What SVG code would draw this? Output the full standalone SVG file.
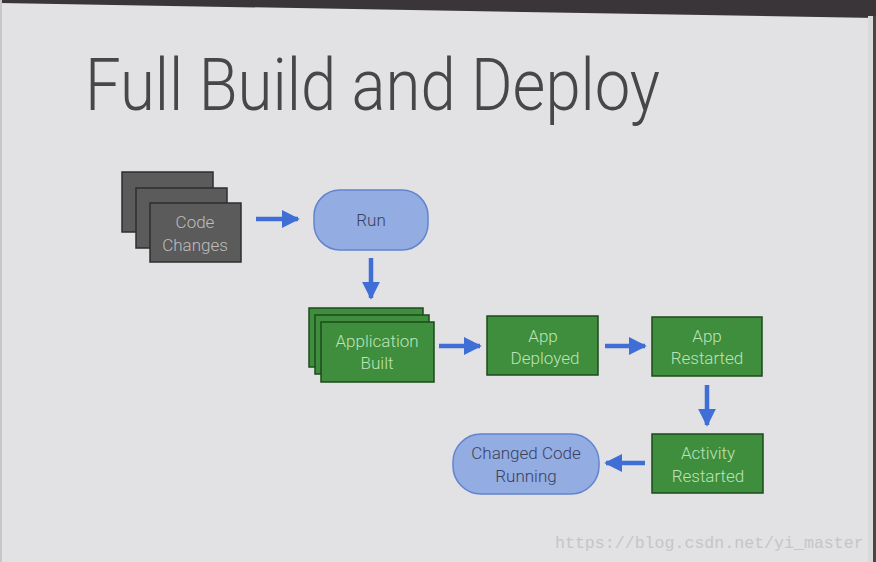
<svg xmlns="http://www.w3.org/2000/svg" width="876" height="562" viewBox="0 0 876 562">
<defs>
<style>
.bg{fill:#e2e1e3}
.gray{fill:#5b5b5b;stroke:#2e2e2e;stroke-width:1.5}
.green{fill:#3e8e3e;stroke:#1c4a1c;stroke-width:1.5}
.blue{fill:#93ace1;stroke:#6284cf;stroke-width:1.5}
.t{font-family:Roboto,"Liberation Sans",sans-serif;font-weight:300;font-size:17px;text-anchor:middle}
.tg{fill:#bdbdbd}
.tgr{fill:#bfe3b6}
.tb{fill:#3b4260}
.arr{stroke:#3f6fd6;stroke-width:4.5;fill:none;marker-end:url(#ah)}
</style>
<marker id="ah" viewBox="0 0 10 10" refX="9" refY="5" markerWidth="4" markerHeight="4.4" orient="auto" markerUnits="strokeWidth">
<path d="M0,0 L10,5 L0,10 Z" fill="#3f6fd6"/>
</marker>
</defs>
<rect class="bg" x="0" y="0" width="876" height="562"/>
<polygon points="0,0 876,0 876,18 0,3" fill="#3a3538"/>
<polygon points="873,16 876,16 876,562 873,562" fill="#4a4548"/>
<rect x="868" y="16" width="5" height="546" fill="#d9d8da"/>
<rect x="0" y="0" width="2" height="562" fill="#c9c5cb"/>
<text x="85" y="110" font-family="Roboto,'Liberation Sans',sans-serif" font-weight="300" font-size="72" fill="#474747" textLength="575" lengthAdjust="spacingAndGlyphs">Full Build and Deploy</text>
<g id="code-changes">
<rect class="gray" x="122" y="172" width="91" height="60"/>
<rect class="gray" x="136" y="188" width="91" height="60"/>
<rect class="gray" x="150" y="203" width="91" height="59"/>
<text class="t tg" x="195" y="228">Code</text>
<text class="t tg" x="195" y="251">Changes</text>
</g>
<g id="run">
<rect class="blue" x="314" y="190" width="114" height="60" rx="26"/>
<text class="t tb" x="371" y="226">Run</text>
</g>
<g id="application-built">
<rect class="green" x="309" y="308" width="114" height="59"/>
<rect class="green" x="315" y="315" width="114" height="59"/>
<rect class="green" x="321" y="322" width="113" height="60"/>
<text class="t tgr" x="377" y="347">Application</text>
<text class="t tgr" x="377" y="369">Built</text>
</g>
<g id="app-deployed">
<rect class="green" x="487" y="316" width="111" height="59"/>
<text class="t tgr" x="543" y="342">App</text>
<text class="t tgr" x="545" y="364">Deployed</text>
</g>
<g id="app-restarted">
<rect class="green" x="652" y="317" width="110" height="59"/>
<text class="t tgr" x="707" y="342">App</text>
<text class="t tgr" x="707" y="364">Restarted</text>
</g>
<g id="activity-restarted">
<rect class="green" x="652" y="434" width="111" height="59"/>
<text class="t tgr" x="708" y="459">Activity</text>
<text class="t tgr" x="708" y="482">Restarted</text>
</g>
<g id="changed-code-running">
<rect class="blue" x="453" y="434" width="146" height="60" rx="28"/>
<text class="t tb" x="526" y="459">Changed Code</text>
<text class="t tb" x="526" y="482">Running</text>
</g>
<g id="connectors">
<path class="arr" d="M256,219 L298,219"/>
<path class="arr" d="M371,258 L371,298"/>
<path class="arr" d="M439,346 L480,346"/>
<path class="arr" d="M605,346 L645,346"/>
<path class="arr" d="M707,385 L707,425"/>
<path class="arr" d="M645,463 L606,463"/>
</g>
<text x="555" y="548" font-family="'Liberation Mono',monospace" font-size="16.6" fill="#c6c5c7">https://blog.csdn.net/yi_master</text>
</svg>
